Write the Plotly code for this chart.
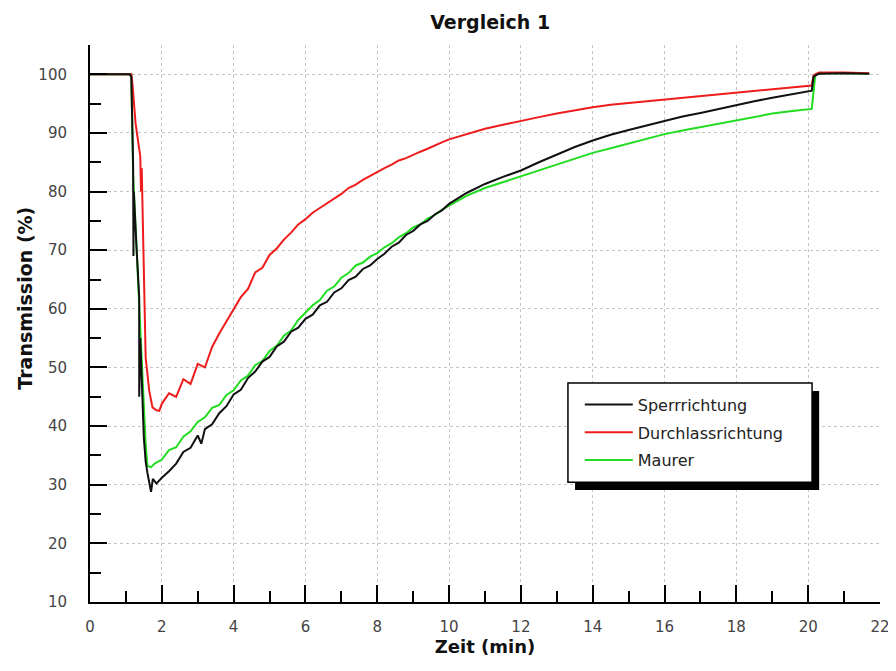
import plotly.graph_objects as go

sperr_zeit = [0, 1.1, 1.15, 1.2, 1.21, 1.22, 1.3, 1.37, 1.37, 1.4, 1.5, 1.55, 1.6, 1.7, 1.75, 1.85,
              2.0, 2.2, 2.4, 2.6, 2.8, 3.0, 3.1, 3.2, 3.4, 3.6, 3.8, 4.0, 4.2, 4.4, 4.6, 4.8,
              5.0, 5.2, 5.4, 5.6, 5.8, 6.0, 6.2, 6.4, 6.6, 6.8, 7.0, 7.2, 7.4, 7.6, 7.8,
              8.0, 8.2, 8.4, 8.6, 8.8, 9.0, 9.2, 9.4, 9.6, 9.8, 10.0,
              10.5, 11, 11.5, 12, 12.5, 13, 13.5, 14, 14.5, 15, 15.5, 16, 16.5, 17, 17.5,
              18, 18.5, 19, 19.5, 20.1, 20.15, 20.3, 21, 21.7]
sperr_wert = [100, 100, 99.6, 85, 69, 80, 70, 62, 45, 55, 38, 34, 32, 28.8, 31, 30.2,
              31.2, 32.3, 33.6, 35.6, 36.3, 38.4, 37.0, 39.5, 40.3, 42.2, 43.4, 45.4, 46.2, 48.2, 49.3, 51.0,
              51.8, 53.6, 54.4, 56.1, 56.8, 58.3, 59.0, 60.6, 61.2, 62.8, 63.5, 64.9, 65.5, 66.8, 67.4,
              68.5, 69.4, 70.6, 71.3, 72.6, 73.3, 74.4, 75.0, 76.1, 76.8, 77.9,
              79.8, 81.3, 82.5, 83.6, 85.0, 86.3, 87.6, 88.7, 89.7, 90.5, 91.3, 92.0, 92.8, 93.4, 94.1,
              94.7, 95.4, 96.0, 96.6, 97.2, 99.6, 100.1, 100.2, 100.1]

durch_zeit = [0, 1.15, 1.18, 1.27, 1.4, 1.42, 1.44, 1.5, 1.55, 1.65, 1.74, 1.85, 1.93,
              2.0, 2.2, 2.4, 2.6, 2.8, 3.0, 3.2, 3.4, 3.6, 3.8, 4.0, 4.2, 4.4, 4.6, 4.8,
              5.0, 5.2, 5.4, 5.6, 5.8, 6.0, 6.2, 6.4, 6.6, 6.8, 7.0, 7.2, 7.4, 7.6, 7.8,
              8.0, 8.2, 8.4, 8.6, 8.8, 9.0, 9.2, 9.4, 9.6, 9.8, 10.0,
              10.5, 11, 11.5, 12, 12.5, 13, 13.5, 14, 14.5, 15, 15.5, 16, 16.5, 17, 17.5,
              18, 18.5, 19, 19.5, 20.1, 20.15, 20.3, 21, 21.7]
durch_wert = [100, 100, 98.5, 91.6, 86, 80, 84, 66, 51.7, 46, 43.2, 42.7, 42.6,
              43.8, 45.6, 45.0, 48.0, 47.2, 50.6, 50.0, 53.5, 55.8, 57.9, 59.8, 62.0, 63.4, 66.2, 67.0,
              69.2, 70.3, 71.8, 73.0, 74.4, 75.3, 76.4, 77.2, 78.0, 78.9, 79.6, 80.6, 81.2, 82.0, 82.7,
              83.4, 84.0, 84.6, 85.3, 85.7, 86.3, 86.8, 87.3, 87.9, 88.4, 88.9,
              89.8, 90.7, 91.4, 92.1, 92.7, 93.3, 93.9, 94.4, 94.8, 95.1, 95.4, 95.7, 96.0, 96.3, 96.6,
              96.9, 97.2, 97.5, 97.8, 98.1, 99.8, 100.3, 100.3, 100.2]

maurer_zeit = [0, 1.15, 1.2, 1.25, 1.37, 1.46, 1.55, 1.6, 1.7, 1.8,
               2.0, 2.2, 2.4, 2.6, 2.8, 3.0, 3.2, 3.4, 3.6, 3.8, 4.0, 4.2, 4.4, 4.6, 4.8,
               5.0, 5.2, 5.4, 5.6, 5.8, 6.0, 6.2, 6.4, 6.6, 6.8, 7.0, 7.2, 7.4, 7.6, 7.8,
               8.0, 8.2, 8.4, 8.6, 8.8, 9.0, 9.2, 9.4, 9.6, 9.8, 10.0,
               10.5, 11, 11.5, 12, 12.5, 13, 13.5, 14, 14.5, 15, 15.5, 16, 16.5, 17, 17.5,
               18, 18.5, 19, 19.5, 20.1, 20.2, 20.4, 21, 21.7]
maurer_wert = [100, 100, 83, 76, 61, 48.6, 37, 33.2, 33, 33.6,
               34.3, 35.9, 36.4, 38.2, 39.1, 40.7, 41.5, 43.1, 43.6, 45.3, 46.1, 47.8, 48.6, 50.4, 51.1,
               52.8, 53.7, 55.4, 56.3, 58.1, 59.3, 60.6, 61.5, 63.1, 63.8, 65.3, 66.1, 67.4, 67.9, 68.9,
               69.5, 70.5, 71.2, 72.2, 72.9, 73.9, 74.4, 75.4, 76.0, 76.9, 77.6,
               79.3, 80.6, 81.6, 82.5, 83.6, 84.6, 85.6, 86.6, 87.4, 88.2, 89.0, 89.8, 90.4, 91.0, 91.6,
               92.2, 92.8, 93.3, 93.7, 94.1, 100.0, 100.2, 100.2, 100.1]

schrift = "DejaVu Sans, sans-serif"

fig = go.Figure()

# Maurer zuerst gezeichnet, Sperrrichtung obenauf; Reihenfolge in der Legende per legendrank
fig.add_trace(go.Scatter(x=maurer_zeit, y=maurer_wert, mode="lines", name="Maurer",
                         legendgroup="c", legendrank=3, line=dict(color="#22dd22", width=2)))
fig.add_trace(go.Scatter(x=durch_zeit, y=durch_wert, mode="lines", name="Durchlassrichtung",
                         legendgroup="b", legendrank=2, line=dict(color="#ee1c1c", width=2)))
fig.add_trace(go.Scatter(x=sperr_zeit, y=sperr_wert, mode="lines", name="Sperrrichtung",
                         legendgroup="a", legendrank=1, line=dict(color="#111111", width=2)))

achse = dict(
    showline=True, linecolor="black", linewidth=2, automargin=False,
    ticks="inside", tickcolor="black", tickwidth=2, ticklen=17,
    showgrid=True, gridcolor="#c4c4c4", griddash="dot", gridwidth=1,
    zeroline=False,
    tickfont=dict(family=schrift, size=15, color="#444444"),
)

fig.update_xaxes(**achse, range=[0, 22], tick0=0, dtick=2, ticklabelstandoff=10,
                 minor=dict(dtick=1, ticks="inside", ticklen=11, tickwidth=2,
                            tickcolor="black", showgrid=False),
                 title=dict(text="<b>Zeit (min)</b>", standoff=4,
                            font=dict(family=schrift, size=18, color="#111111")))
fig.update_yaxes(**achse, range=[10, 105], tick0=10, dtick=10, ticklabelstandoff=18,
                 minor=dict(dtick=5, ticks="inside", ticklen=11, tickwidth=2,
                            tickcolor="black", showgrid=False))

# Legendenkasten mit Schatten
fig.add_shape(type="rect", xref="paper", yref="paper", x0=0.614, x1=0.923, y0=0.201, y1=0.379,
              fillcolor="black", line=dict(width=0), layer="above")
fig.add_shape(type="rect", xref="paper", yref="paper", x0=0.605, x1=0.914, y0=0.215, y1=0.393,
              fillcolor="white", line=dict(color="black", width=1.5), layer="above")

fig.add_annotation(text="<b>Transmission (%)</b>", xref="paper", yref="paper",
                   x=-0.082, y=0.545, xanchor="center", yanchor="middle",
                   textangle=-90, showarrow=False,
                   font=dict(family=schrift, size=19, color="#111111"))

# die Seite hat 8px Rand, daher 888x663
fig.update_layout(
    width=888, height=663,
    margin=dict(l=82, r=16, t=37, b=69),
    paper_bgcolor="white", plot_bgcolor="white",
    title=dict(text="<b>Vergleich 1</b>", x=0.543, xanchor="center",
               y=0.979, yanchor="middle", yref="container",
               font=dict(family=schrift, size=19, color="#111111")),
    showlegend=True,
    legend=dict(x=0.62, y=0.385, xanchor="left", yanchor="top", traceorder="grouped",
                bgcolor="rgba(0,0,0,0)", borderwidth=0, itemwidth=48, tracegroupgap=4,
                font=dict(family=schrift, size=16, color="#222222")),
)

fig.write_html("out.html")
